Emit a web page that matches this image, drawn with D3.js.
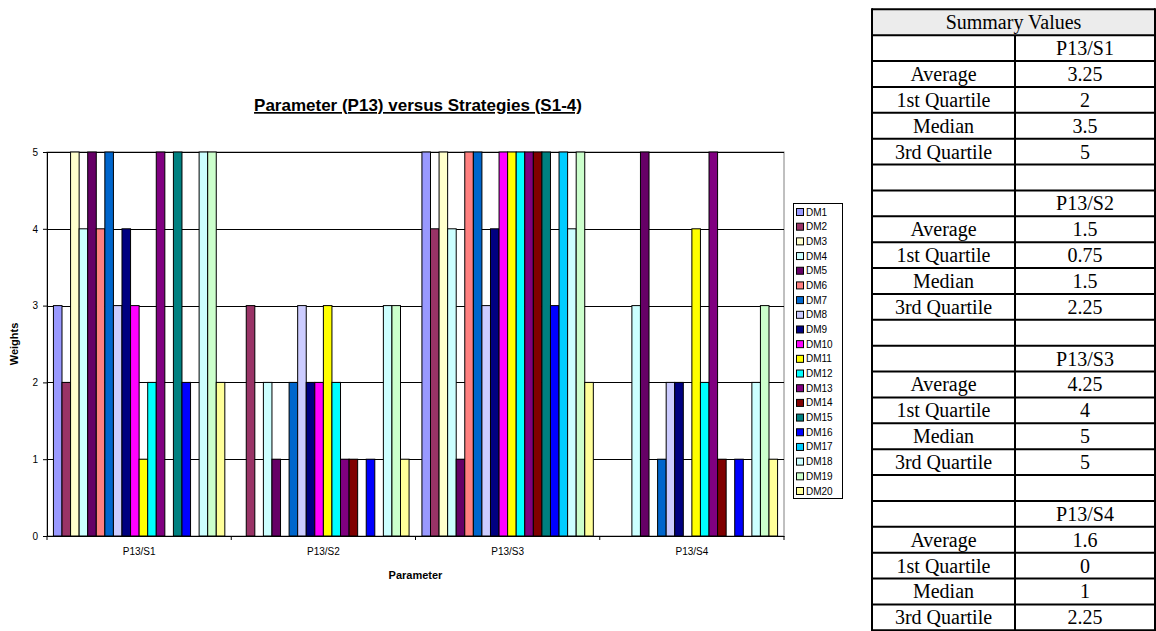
<!DOCTYPE html>
<html><head><meta charset="utf-8">
<script src="https://cdn.jsdelivr.net/npm/d3@7"></script>
<style>body{margin:0;background:#fff}svg{display:block}</style>
</head><body>
<svg id="c" width="1156" height="631"></svg>
<script>
const categories = ["P13/S1", "P13/S2", "P13/S3", "P13/S4"];
const seriesNames = ["DM1","DM2","DM3","DM4","DM5","DM6","DM7","DM8","DM9","DM10",
  "DM11","DM12","DM13","DM14","DM15","DM16","DM17","DM18","DM19","DM20"];
const seriesColors = ["#9999FF","#993366","#FFFFCC","#CCFFFF","#660066","#FF8080","#0066CC","#CCCCFF","#000080","#FF00FF",
  "#FFFF00","#00FFFF","#800080","#800000","#008080","#0000FF","#00CCFF","#CCFFFF","#CCFFCC","#FFFF99"];
const valuesS1 = [3,2,5,4,5,4,5,3,4,3,1,2,5,0,5,2,0,5,5,2];
const valuesS2 = [0,3,0,2,1,0,2,3,2,2,3,2,1,1,0,1,0,3,3,1];
const valuesS3 = [5,4,5,4,1,5,5,3,4,5,5,5,5,5,5,3,5,4,5,2];
const valuesS4 = [0,0,0,3,5,0,1,2,2,0,4,2,5,1,0,1,0,2,3,1];
const yTicks = [0,1,2,3,4,5];
const statLabels = ["Average","1st Quartile","Median","3rd Quartile"];
const statsS1 = ["3.25","2","3.5","5"];
const statsS2 = ["1.5","0.75","1.5","2.25"];
const statsS3 = ["4.25","4","5","5"];
const statsS4 = ["1.6","0","1","2.25"];

const allValues = [valuesS1, valuesS2, valuesS3, valuesS4];
const allStats = [statsS1, statsS2, statsS3, statsS4];

const svg = d3.select("#c");
const sans = "'Liberation Sans', Arial, sans-serif";
const serif = "'Liberation Serif', 'Times New Roman', serif";

const L = 47, R = 784, T = 152, B = 536;
const x0 = d3.scaleBand().domain(categories).range([L, R]).padding(0);
const x1 = d3.scaleBand().domain(seriesNames).range([0, x0.bandwidth()]).paddingInner(0).paddingOuter(0.75);
const y = d3.scaleLinear().domain([0, 5]).range([B, T]);
const color = d3.scaleOrdinal().domain(seriesNames).range(seriesColors);

// plot area
svg.append("rect").attr("x", L).attr("y", T).attr("width", R - L).attr("height", B - T)
  .attr("fill", "#fff").attr("stroke", "#808080").attr("stroke-width", 1);

// gridlines
svg.append("g").selectAll("line").data(yTicks.filter(d => d > 0)).join("line")
  .attr("x1", L).attr("x2", R).attr("y1", d => Math.round(y(d)) + 0.5).attr("y2", d => Math.round(y(d)) + 0.5)
  .attr("stroke", "#000").attr("stroke-width", 1);

// bars
const groups = svg.append("g").selectAll("g").data(categories).join("g")
  .attr("transform", d => `translate(${x0(d)},0)`);
groups.each(function(cat, ci) {
  const data = seriesNames.map((s, i) => ({ s, v: allValues[ci][i] })).filter(d => d.v > 0);
  d3.select(this).selectAll("rect").data(data).join("rect")
    .attr("x", d => x1(d.s))
    .attr("y", d => y(d.v))
    .attr("width", x1.bandwidth())
    .attr("height", d => y(0) - y(d.v))
    .attr("fill", d => color(d.s))
    .attr("stroke", "#000").attr("stroke-width", 1);
});

// y axis
const yAxis = d3.axisLeft(y).tickValues(yTicks).tickSize(4).tickFormat(d3.format("d"));
const gy = svg.append("g").attr("transform", `translate(${L},0)`).call(yAxis);
gy.select(".domain").attr("stroke", "#000");
gy.selectAll(".tick line").attr("stroke", "#000");
gy.selectAll("text").attr("font-family", sans).attr("font-size", 10).attr("fill", "#000").attr("dx", "-2");

// x axis
const xAxis = d3.axisBottom(x0).tickSize(0).tickSizeOuter(0);
const gx = svg.append("g").attr("transform", `translate(0,${B})`).call(xAxis);
gx.select(".domain").attr("stroke", "#000");
gx.selectAll("text").attr("font-family", sans).attr("font-size", 10).attr("fill", "#000").attr("dy", "1.6em");
// boundary tick marks
svg.append("g").selectAll("line").data(d3.range(categories.length + 1)).join("line")
  .attr("x1", i => L + i * x0.step()).attr("x2", i => L + i * x0.step())
  .attr("y1", B).attr("y2", B + 4).attr("stroke", "#000");

// titles
svg.append("text").attr("x", 418).attr("y", 111).attr("text-anchor", "middle")
  .attr("font-family", sans).attr("font-weight", "bold").attr("font-size", 17)
  .attr("text-decoration", "underline").text("Parameter (P13) versus Strategies (S1-4)");
svg.append("text").attr("x", (L + R) / 2).attr("y", 579).attr("text-anchor", "middle")
  .attr("font-family", sans).attr("font-weight", "bold").attr("font-size", 11).text("Parameter");
svg.append("text").attr("transform", `translate(18,${(T + B) / 2}) rotate(-90)`).attr("text-anchor", "middle")
  .attr("font-family", sans).attr("font-weight", "bold").attr("font-size", 11).text("Weights");

// legend
const lg = svg.append("g");
lg.append("rect").attr("x", 793.5).attr("y", 203.5).attr("width", 49).attr("height", 295)
  .attr("fill", "#fff").attr("stroke", "#000");
const ly = d3.scalePoint().domain(seriesNames).range([212, 491]);
const items = lg.selectAll("g.it").data(seriesNames).join("g").attr("class", "it")
  .attr("transform", d => `translate(0,${ly(d)})`);
items.append("rect").attr("x", 796.5).attr("y", -3.5).attr("width", 7).attr("height", 7)
  .attr("fill", d => color(d)).attr("stroke", "#000");
items.append("text").attr("x", 806).attr("y", 3.5).attr("font-family", sans).attr("font-size", 10)
  .attr("fill", "#000").text(d => d);

// summary table
const rows = [{ a: "Summary Values", header: true }];
categories.forEach((c, ci) => {
  rows.push({ a: "", b: c });
  statLabels.forEach((s, si) => rows.push({ a: s, b: allStats[ci][si] }));
  if (ci < categories.length - 1) rows.push({ a: "", b: "" });
});
const tx0 = 872, txm = 1015, tx1 = 1155, ty0 = 9.3;
const rowY = d3.scaleLinear().domain([0, rows.length]).range([ty0, 630.3]);
const tg = svg.append("g");
tg.append("rect").attr("x", tx0).attr("y", rowY(0)).attr("width", tx1 - tx0).attr("height", rowY(1) - rowY(0))
  .attr("fill", "#ececec");
rows.forEach((r, i) => {
  const ym = (rowY(i) + rowY(i + 1)) / 2;
  if (r.header) {
    tg.append("text").attr("x", (tx0 + tx1) / 2).attr("y", ym + 7).attr("text-anchor", "middle")
      .attr("font-family", serif).attr("font-size", 20).text(r.a);
  } else {
    tg.append("text").attr("x", (tx0 + txm) / 2).attr("y", ym + 7).attr("text-anchor", "middle")
      .attr("font-family", serif).attr("font-size", 20).text(r.a);
    tg.append("text").attr("x", (txm + tx1) / 2).attr("y", ym + 7).attr("text-anchor", "middle")
      .attr("font-family", serif).attr("font-size", 20).text(r.b);
  }
});
tg.selectAll("line.h").data(d3.range(rows.length + 1)).join("line").attr("class", "h")
  .attr("x1", tx0).attr("x2", tx1).attr("y1", i => rowY(i)).attr("y2", i => rowY(i))
  .attr("stroke", "#000").attr("stroke-width", 2);
tg.append("line").attr("x1", txm).attr("x2", txm).attr("y1", rowY(1)).attr("y2", rowY(rows.length))
  .attr("stroke", "#000").attr("stroke-width", 2);
[tx0, tx1].forEach(xx => tg.append("line").attr("x1", xx).attr("x2", xx).attr("y1", rowY(0) - 1).attr("y2", rowY(rows.length) + 1)
  .attr("stroke", "#000").attr("stroke-width", 2));
</script>
</body></html>
